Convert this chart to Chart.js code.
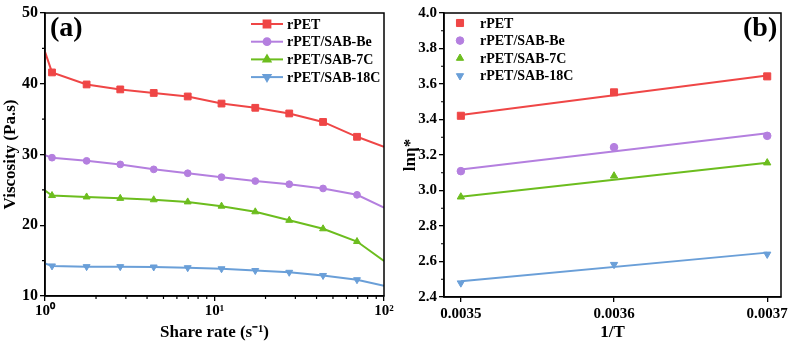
<!DOCTYPE html>
<html>
<head>
<meta charset="utf-8">
<script src="https://cdn.jsdelivr.net/npm/chart.js@4/dist/chart.umd.min.js"></script>
<style>
  html, body { margin: 0; padding: 0; background: #fff; }
  #wrap { position: relative; width: 793px; height: 345px; }
  .panel { position: absolute; top: 0; height: 345px; }
  #left  { left: 0;   width: 400px; }
  #right { left: 400px; width: 393px; }
</style>
</head>
<body>
<div id="wrap">
  <div class="panel" id="left"><canvas id="chart-a" width="400" height="345"></canvas></div>
  <div class="panel" id="right"><canvas id="chart-b" width="393" height="345"></canvas></div>
</div>
<script>
// ---------------------------------------------------------------------------
// Data
// ---------------------------------------------------------------------------
const SERIES_NAMES  = ["rPET", "rPET/SAB-Be", "rPET/SAB-7C", "rPET/SAB-18C"];
const SERIES_COLORS = ["#ef4646", "#b47fdf", "#6cbd1e", "#6a9fd8"];

// (a) viscosity vs shear rate
const SHEAR_RATE  = [1, 1.1, 1.76, 2.78, 4.38, 6.95, 11.0, 17.4, 27.6, 43.7, 69.3, 100];
const VISC_RPET   = [44.5, 41.6, 39.9, 39.2, 38.7, 38.2, 37.2, 36.6, 35.8, 34.6, 32.5, 31.1];
const VISC_BE     = [29.9, 29.55, 29.1, 28.6, 27.9, 27.35, 26.8, 26.25, 25.8, 25.2, 24.3, 22.5];
const VISC_7C     = [24.9, 24.2, 24.0, 23.8, 23.6, 23.3, 22.7, 21.9, 20.7, 19.5, 17.7, 14.95];
const VISC_18C    = [14.6, 14.25, 14.15, 14.15, 14.1, 14.0, 13.85, 13.6, 13.35, 12.9, 12.3, 11.45];
const X_TICKS_A   = [1, 10, 100];
const X_LABELS_A  = ["10\u2070", "10\u00b9", "10\u00b2"];

// (b) ln(eta*) vs 1/T
const INV_T       = [0.0035, 0.0036, 0.0037];
const LN_RPET     = [3.421, 3.553, 3.643];
const LN_BE       = [3.109, 3.244, 3.308];
const LN_7C       = [2.964, 3.082, 3.156];
const LN_18C      = [2.479, 2.583, 2.641];
const FIT_X       = [0.0035, 0.0037];
const FIT_START   = [3.425, 3.118, 2.965, 2.489];
const FIT_END     = [3.648, 3.323, 3.157, 2.650];

// marker looks (Chart.js draws "rect" smaller than a circle of same radius)
const POINT_STYLES = ["rect", "circle", "triangle", "triangle"];
const POINT_ROTS   = [0, 0, 0, 180];
const POINT_SIZE_A = [4.8, 3.4, 4.0, 4.0];
const POINT_SIZE_B = [5.0, 3.8, 4.2, 4.2];

const FONT = "'Liberation Serif', 'Times New Roman', serif";
Chart.defaults.font.family = FONT;
Chart.defaults.color = "#000";

// ---------------------------------------------------------------------------
// Shared plugins: frame, minor ticks, panel label, inset legend
// ---------------------------------------------------------------------------
const framePlugin = {
    id: "frame",
    afterDraw(chart) {
        const a = chart.chartArea, ctx = chart.ctx;
        ctx.save();
        ctx.strokeStyle = "#000";
        ctx.lineWidth = 1.5;
        ctx.strokeRect(a.left, a.top, a.right - a.left, a.bottom - a.top);

        // minor ticks
        const minor = chart.options.plugins.frame.minor || {};
        ctx.lineWidth = 1.2;
        ctx.beginPath();
        (minor.x || []).forEach((v) => {
            const px = chart.scales.x.getPixelForValue(v);
            ctx.moveTo(px, a.bottom);
            ctx.lineTo(px, a.bottom + 3);
        });
        (minor.y || []).forEach((v) => {
            const py = chart.scales.y.getPixelForValue(v);
            ctx.moveTo(a.left, py);
            ctx.lineTo(a.left - 3, py);
        });
        ctx.stroke();

        // panel label
        const lab = chart.options.plugins.frame.label;
        if (lab) {
            ctx.font = "bold 28px " + FONT;
            ctx.fillStyle = "#000";
            ctx.textBaseline = "middle";
            ctx.textAlign = "left";
            ctx.fillText(lab.text, lab.x, lab.y);
        }
        ctx.restore();
    }
};

const insetLegend = {
    id: "insetLegend",
    afterDraw(chart) {
        const opt = chart.options.plugins.insetLegend;
        if (!opt) return;
        const ctx = chart.ctx;
        ctx.save();
        ctx.font = "bold 14px " + FONT;
        ctx.textBaseline = "middle";
        ctx.textAlign = "left";
        chart.data.datasets.forEach((ds, i) => {
            if (ds.noLegend) return;
            const y = opt.y + i * opt.gap;
            if (opt.line) {
                ctx.strokeStyle = ds.borderColor;
                ctx.lineWidth = 2;
                ctx.beginPath();
                ctx.moveTo(opt.x, y);
                ctx.lineTo(opt.x + opt.line, y);
                ctx.stroke();
            }
            ctx.fillStyle = ds.backgroundColor;
            ctx.strokeStyle = ds.borderColor;
            Chart.helpers.drawPoint(ctx, {
                pointStyle: ds.pointStyle,
                radius: opt.sizes[i],
                rotation: ds.rotation || 0,
                borderWidth: 1
            }, opt.x + (opt.line ? opt.line / 2 : 0), y);
            ctx.fillStyle = "#000";
            ctx.fillText(ds.label, opt.textX, y + 1);
        });
        ctx.restore();
    }
};

function axisCommon(sizeProp, size) {
    return {
        border: { color: "#000", width: 1.5 },
        grid: { drawOnChartArea: false, color: "#000", lineWidth: 1.3, tickLength: 5 },
        afterFit(scale) { scale[sizeProp] = size; }
    };
}

// ---------------------------------------------------------------------------
// (a) viscosity chart
// ---------------------------------------------------------------------------
const viscSets = [VISC_RPET, VISC_BE, VISC_7C, VISC_18C];
new Chart(document.getElementById("chart-a"), {
    type: "line",
    data: {
        datasets: viscSets.map((vals, i) => ({
            label: SERIES_NAMES[i],
            data: SHEAR_RATE.map((x, j) => ({ x: x, y: vals[j] })),
            borderColor: SERIES_COLORS[i],
            backgroundColor: SERIES_COLORS[i],
            borderWidth: 2,
            pointStyle: POINT_STYLES[i],
            rotation: POINT_ROTS[i],
            pointRadius: SHEAR_RATE.map((x) => (x === 1 || x === 100) ? 0 : POINT_SIZE_A[i]),
            pointBorderWidth: 1,
            tension: 0
        }))
    },
    options: {
        responsive: false,
        animation: false,
        layout: { padding: { left: 0, right: 16, top: 13, bottom: 0 } },
        plugins: {
            legend: { display: false },
            tooltip: { enabled: false },
            frame: {
                minor: {
                    x: [2, 3, 4, 5, 6, 7, 8, 9, 20, 30, 40, 50, 60, 70, 80, 90],
                    y: [15, 25, 35, 45]
                },
                label: { text: "(a)", x: 50, y: 29 }
            },
            insetLegend: { x: 251, y: 24, gap: 17.7, line: 32, sizes: POINT_SIZE_A, textX: 287 }
        },
        scales: {
            x: Object.assign(axisCommon("height", 49), {
                type: "logarithmic",
                min: 1,
                max: 100,
                afterBuildTicks(scale) { scale.ticks = X_TICKS_A.map((v) => ({ value: v })); },
                ticks: {
                    font: { size: 15, weight: "bold" },
                    maxRotation: 0,
                    padding: 1,
                    callback: (v) => X_LABELS_A[X_TICKS_A.indexOf(v)]
                },
                title: {
                    display: true,
                    text: "Share rate (s\u207b\u00b9)",
                    font: { size: 17, weight: "bold" },
                    padding: { top: 0, bottom: 2 }
                }
            }),
            y: Object.assign(axisCommon("width", 45), {
                min: 10,
                max: 50,
                ticks: { stepSize: 10, font: { size: 16, weight: "bold" }, padding: 2 },
                title: {
                    display: true,
                    text: "Viscosity (Pa.s)",
                    font: { size: 17, weight: "bold" },
                    padding: { top: 0, bottom: 0 }
                }
            })
        }
    },
    plugins: [framePlugin, insetLegend]
});

// ---------------------------------------------------------------------------
// (b) Arrhenius plot
// ---------------------------------------------------------------------------
const lnSets = [LN_RPET, LN_BE, LN_7C, LN_18C];
const pointSets = lnSets.map((vals, i) => ({
    type: "scatter",
    label: SERIES_NAMES[i],
    data: INV_T.map((x, j) => ({ x: x, y: vals[j] })),
    borderColor: SERIES_COLORS[i],
    backgroundColor: SERIES_COLORS[i],
    pointStyle: POINT_STYLES[i],
    rotation: POINT_ROTS[i],
    pointRadius: POINT_SIZE_B[i],
    pointBorderWidth: 1
}));
const fitSets = FIT_START.map((y0, i) => ({
    type: "line",
    label: SERIES_NAMES[i] + " fit",
    noLegend: true,
    data: [{ x: FIT_X[0], y: y0 }, { x: FIT_X[1], y: FIT_END[i] }],
    borderColor: SERIES_COLORS[i],
    backgroundColor: SERIES_COLORS[i],
    borderWidth: 2,
    pointRadius: 0
}));

new Chart(document.getElementById("chart-b"), {
    type: "scatter",
    data: { datasets: pointSets.concat(fitSets) },
    options: {
        responsive: false,
        animation: false,
        layout: { padding: { left: 0, right: 12, top: 13, bottom: 0 } },
        plugins: {
            legend: { display: false },
            tooltip: { enabled: false },
            frame: {
                minor: { y: [2.5, 2.7, 2.9, 3.1, 3.3, 3.5, 3.7, 3.9] },
                label: { text: "(b)", x: 343, y: 29 }
            },
            insetLegend: { x: 60, y: 23, gap: 17.6, sizes: POINT_SIZE_B, textX: 80 }
        },
        scales: {
            x: Object.assign(axisCommon("height", 48), {
                type: "linear",
                min: 0.003489,
                max: 0.003709,
                afterBuildTicks(scale) { scale.ticks = INV_T.map((v) => ({ value: v })); },
                ticks: {
                    font: { size: 15, weight: "bold" },
                    maxRotation: 0,
                    padding: 3,
                    callback: (v) => v.toFixed(4)
                },
                title: {
                    display: true,
                    text: "1/T",
                    font: { size: 17, weight: "bold" },
                    padding: { top: 0, bottom: 2 }
                }
            }),
            y: Object.assign(axisCommon("width", 44), {
                min: 2.4,
                max: 4.0,
                ticks: {
                    stepSize: 0.2,
                    font: { size: 15, weight: "bold" },
                    padding: 2,
                    callback: (v) => v.toFixed(1)
                },
                title: {
                    display: true,
                    text: "ln\u03b7*",
                    font: { size: 17, weight: "bold" },
                    padding: { top: 0, bottom: 0 }
                }
            })
        }
    },
    plugins: [framePlugin, insetLegend]
});
</script>
</body>
</html>
